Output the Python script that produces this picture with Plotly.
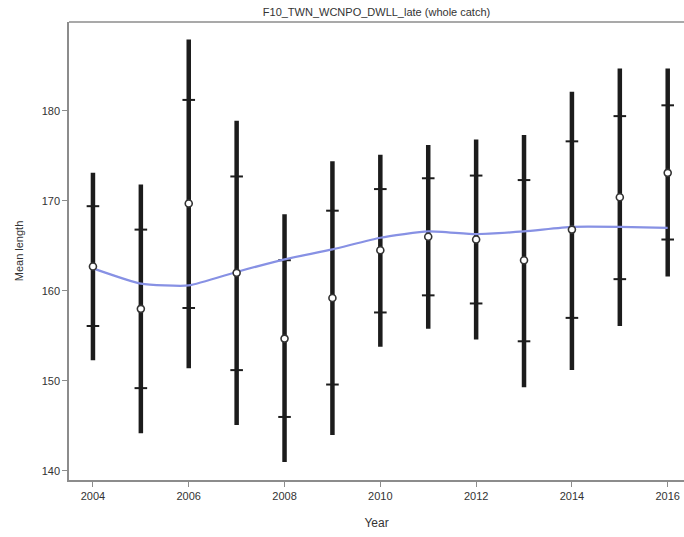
import plotly.graph_objects as go

# Yearly mean length with inner and outer intervals, plus a smoothed trend
years = [2004, 2005, 2006, 2007, 2008, 2009, 2010, 2011, 2012, 2013, 2014, 2015, 2016]
mean_len = [162.7, 158.0, 169.7, 162.0, 154.7, 159.2, 164.5, 166.0, 165.7, 163.4, 166.8, 170.4, 173.1]
inner_hi = [169.4, 166.8, 181.2, 172.7, 163.4, 168.9, 171.3, 172.5, 172.8, 172.3, 176.6, 179.4, 180.6]
inner_lo = [156.1, 149.2, 158.1, 151.2, 146.0, 149.6, 157.6, 159.5, 158.6, 154.4, 157.0, 161.3, 165.7]
outer_hi = [173.1, 171.8, 187.9, 178.9, 168.5, 174.4, 175.1, 176.2, 176.8, 177.3, 182.1, 184.7, 184.7]
outer_lo = [152.3, 144.2, 151.4, 145.1, 141.0, 144.0, 153.8, 155.8, 154.6, 149.3, 151.2, 156.1, 161.6]
smooth = [162.5, 160.8, 160.6, 162.1, 163.5, 164.6, 165.9, 166.6, 166.3, 166.6, 167.1, 167.1, 167.0]

title_text = "F10_TWN_WCNPO_DWLL_late (whole catch)"
x_ticks = [2004, 2006, 2008, 2010, 2012, 2014, 2016]
y_ticks = [140, 150, 160, 170, 180]

font_family = "Liberation Sans, Arial, sans-serif"
axis_grey = "#8c8c8c"
text_grey = "#333333"

fig = go.Figure()

# Outer interval as a thick vertical bar (error bar without caps)
centre = [(h + l) / 2 for h, l in zip(outer_hi, outer_lo)]
fig.add_trace(go.Scatter(
    x=years, y=centre, mode="markers",
    marker=dict(size=0.1, opacity=0),
    error_y=dict(type="data", symmetric=True,
                 array=[(h - l) / 2 for h, l in zip(outer_hi, outer_lo)],
                 thickness=4.5, width=0, color="#1c1c1c"),
    hoverinfo="skip", showlegend=False,
))

# Inner interval tick marks
fig.add_trace(go.Scatter(
    x=years + years, y=inner_hi + inner_lo, mode="markers",
    marker=dict(symbol="line-ew", size=9, line=dict(width=2, color="#1c1c1c")),
    showlegend=False,
))

# Smoothed trend line
fig.add_trace(go.Scatter(
    x=years, y=smooth, mode="lines",
    line=dict(color="rgb(135,145,228)", width=2.2, shape="spline", smoothing=0.5),
    showlegend=False,
))

# Yearly means as open circles
fig.add_trace(go.Scatter(
    x=years, y=mean_len, mode="markers",
    marker=dict(symbol="circle", size=7, color="white",
                line=dict(width=1.6, color="#333333")),
    showlegend=False,
))

fig.update_layout(
    width=684, height=537,
    margin=dict(l=69, r=0, t=22, b=57),
    paper_bgcolor="white", plot_bgcolor="white",
    font=dict(family=font_family, size=11, color=text_grey),
    title=dict(text=title_text, x=0.5, xref="paper", xanchor="center",
               y=1 - 12 / 537, yref="container", yanchor="middle",
               font=dict(size=11, color=text_grey)),
    xaxis=dict(
        range=[2003.5, 2016.34], tickvals=x_ticks,
        showgrid=False, zeroline=False,
        showline=True, linecolor=axis_grey, linewidth=1.5,
        ticks="outside", ticklen=5, tickcolor=axis_grey, tickwidth=1,
        title=dict(text="Year", standoff=18, font=dict(size=12, color=text_grey)),
        tickfont=dict(size=11, color=text_grey),
    ),
    yaxis=dict(
        range=[139.0, 189.85], tickvals=y_ticks,
        showgrid=False, zeroline=False,
        showline=True, linecolor=axis_grey, linewidth=1.5,
        ticks="outside", ticklen=5, tickcolor=axis_grey, tickwidth=1,
        title=dict(text="Mean length", standoff=16, font=dict(size=11, color=text_grey)),
        tickfont=dict(size=11, color=text_grey),
    ),
    shapes=[dict(type="line", xref="paper", yref="paper", x0=0, x1=1, y0=1, y1=1,
                 line=dict(color=axis_grey, width=1.5))],
)

fig.write_html("out.html")
